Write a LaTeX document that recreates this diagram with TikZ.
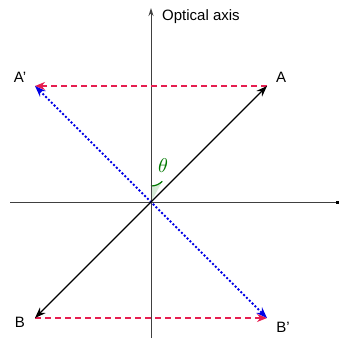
\documentclass[tikz,border=0pt]{standalone}
\usepackage{fontspec}
\setmainfont{Liberation Sans}
\usetikzlibrary{arrows.meta}
\definecolor{myred}{RGB}{230,30,80}
\definecolor{myblue}{RGB}{0,0,230}
\definecolor{mygreen}{RGB}{0,120,0}
\definecolor{mylgreen}{RGB}{215,235,215}
\tikzset{
  axisline/.style={line width=0.9pt, draw=black!75},
  blackarrow/.style={line width=1.3pt, -{Stealth[length=11pt,width=8pt]}},
  redarrow/.style={line width=1.3pt, draw=myred, dash pattern=on 6pt off 4pt, -{Stealth[length=10pt,width=8pt]}},
  bluearrow/.style={line width=1.8pt, draw=myblue, dash pattern=on 2pt off 2pt, {Stealth[length=11pt,width=8pt]}-{Stealth[length=11pt,width=8pt]}},
  lbl/.style={font=\fontsize{15pt}{17pt}\selectfont, inner sep=0pt}
}
\begin{document}
\begin{tikzpicture}[x=1pt,y=-1pt]
\useasboundingbox (0,0) rectangle (339,338);
\coordinate (O) at (151,202);
\coordinate (A) at (267,86);
\coordinate (Ap) at (35,86);
\coordinate (B) at (35,318);
\coordinate (Bp) at (267,318);
\coordinate (top) at (151,8);
\coordinate (bot) at (151,338);
\coordinate (left) at (10,202);
\coordinate (right) at (338,202);
% angle
\fill[mylgreen] (O) -- ++(0,-16) arc[start angle=90,end angle=45,radius=16] -- cycle;
\draw[mygreen, line width=1.2pt] (O) ++(0,-16) arc[start angle=90,end angle=45,radius=16];
% axes
\draw[axisline] (left) -- (right);
\fill[black] (336,200.5) rectangle (339,203.5);
\draw[axisline, -{Stealth[length=8pt,width=5pt]}] (bot) -- (top);
\node[lbl, anchor=west] (oa) at (162,17) {Optical axis};
% lines
\draw[redarrow] (A) -- (Ap);
\draw[redarrow] (B) -- (Bp);
\draw[bluearrow] (Ap) -- (Bp);
\draw[blackarrow] (O) -- (A);
\draw[blackarrow] (O) -- (B);
% labels
\node[lbl] (lA) at (281,77) {A};
\node[lbl] (lAp) at (20,77) {A'};
\node[lbl] (lB) at (20,322) {B};
\node[lbl] (lBp) at (283,327) {B'};
\node[inner sep=0pt, text=mygreen] (th) at (163,166) {\scalebox{2}{$\theta$}};
\end{tikzpicture}
\end{document}
